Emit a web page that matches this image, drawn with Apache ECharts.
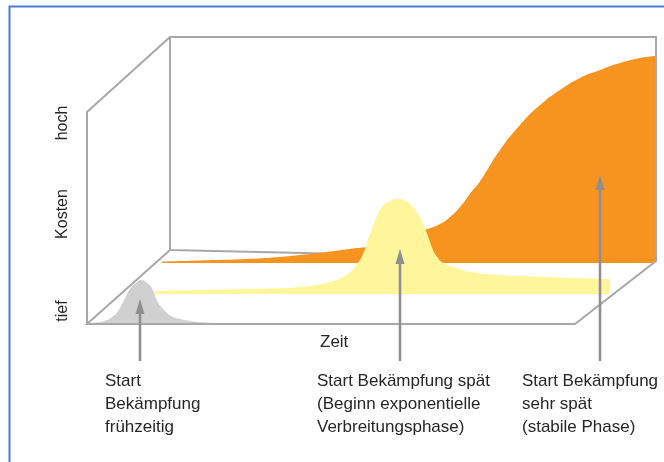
<!DOCTYPE html>
<html><head><meta charset="utf-8">
<script src="https://cdn.jsdelivr.net/npm/echarts@6/dist/echarts.min.js"></script>
<style>html,body{margin:0;padding:0;background:#fff}#c{width:664px;height:462px}</style>
</head><body><div id="c"></div>
<script>
// Zeit (0..100 along each depth layer) and Kosten (0..100, relative)
const timeVerySpaet = [1.4, 9, 19, 29, 39, 45, 49, 53, 57, 59, 61, 63, 65, 69, 73, 77, 81, 85, 89, 93, 97, 100];
const costVerySpaet = [0.7, 1.2, 2.0, 3.9, 6.8, 8.7, 11.0, 15.0, 18.8, 22.2, 27.0, 33.5, 39.5, 54.6, 66.7, 76.3, 83.6, 89.4, 93.2, 96.6, 99.0, 100];

const timeSpaet = [6.9, 16.0, 26.2, 36.3, 42.4, 45.0, 46.5, 47.9, 49.1, 50.5, 51.9, 53.1, 54.6, 56.2, 57.8, 59.0, 60.0, 61.1, 62.1, 63.3, 64.3, 65.3, 66.7, 68.2, 70.8, 76.9, 87.0, 99.2];
const costSpaet = [1.4, 1.9, 2.4, 3.4, 5.8, 8.2, 10.6, 14.5, 19.3, 29.0, 37.7, 42.5, 44.9, 45.9, 44.9, 42.5, 39.6, 34.8, 29.0, 21.3, 17.4, 15.0, 13.5, 12.6, 10.6, 9.2, 8.2, 7.2];

const timeFrueh = [0, 1.2, 2.7, 4.1, 5.1, 6.1, 7.4, 8.8, 10.0, 11.1, 12.3, 13.3, 14.5, 15.6, 16.4, 17.6, 19.1, 21.1, 22.5, 25.8, 29.3];
const costFrueh = [0, 0.5, 1.0, 1.9, 3.4, 5.3, 10.6, 16.9, 19.8, 21.3, 19.8, 17.4, 10.6, 7.2, 5.3, 3.4, 2.4, 1.4, 1.0, 0.5, 0];

const axisLabelsY = ['tief', 'Kosten', 'hoch'];
const axisLabelX = 'Zeit';
const annotations = [
  'Start\nBekämpfung\nfrühzeitig',
  'Start Bekämpfung spät\n(Beginn exponentielle\nVerbreitungsphase)',
  'Start Bekämpfung\nsehr spät\n(stabile Phase)'
];
// arrow targets: [layer, time, cost]
const arrowTargets = [[2, 10.9, 12.1], [1, 56.6, 21.7], [0, 89, 42.5]];

// ---- layout ----
const PX = 2.07, YMAX = 110;
const layers = [
  {left: 155, width: 500, base: 263, color: '#F7931F'},
  {left: 121, width: 493, base: 294, color: '#FFF59A'},
  {left: 87,  width: 488, base: 324, color: '#D0D0D0'}
];
const datasets = [[timeVerySpaet, costVerySpaet], [timeSpaet, costSpaet], [timeFrueh, costFrueh]];
const FONT = '"Liberation Sans", Arial, sans-serif';
const TXT = '#262626';
const LINE = '#a8a8a8';

const chart = echarts.init(document.getElementById('c'), null, {renderer: 'canvas'});

const option = {
  animation: false,
  backgroundColor: '#ffffff',
  grid: layers.map(l => ({left: l.left, width: l.width, top: l.base - YMAX * PX, height: YMAX * PX, containLabel: false})),
  xAxis: layers.map((l, i) => ({type: 'value', gridIndex: i, min: 0, max: 100, show: false})),
  yAxis: layers.map((l, i) => ({type: 'value', gridIndex: i, min: 0, max: YMAX, show: false})),
  series: layers.map((l, i) => ({
    type: 'line', xAxisIndex: i, yAxisIndex: i, z: 2 + i,
    data: datasets[i][0].map((t, k) => [t, datasets[i][1][k]]),
    symbol: 'none', showSymbol: false, silent: true,
    smooth: 0.5,
    lineStyle: {width: 0, color: l.color},
    areaStyle: {color: l.color, opacity: 1}
  }))
};
chart.setOption(option);

// box wireframe
const box = {
  fl: [87, 112], fb: [87, 324], bt: [170, 37], bb: [170, 250],
  brt: [656, 37], brb: [656, 261], frb: [575, 324]
};
const g = [];
const line = (pts, z) => ({type: 'polyline', z: z, silent: true,
  shape: {points: pts}, style: {stroke: LINE, lineWidth: 2, fill: null}});
// back panel (behind curves)
g.push(line([box.bb, box.bt, box.brt, box.brb, box.bb], 1));
// left side
g.push(line([box.fb, box.fl, box.bt], 1));
// floor (in front)
g.push(line([box.bb, box.fb, box.frb, box.brb], 20));
// blue frame
g.push({type: 'polyline', z: 30, silent: true, shape: {points: [[9.5, 462], [9.5, 6.5], [664, 6.5]]},
  style: {stroke: '#4A7BD5', lineWidth: 2, fill: null}});

// arrows
const ARROW = '#8f8f8f';
arrowTargets.forEach(([li, t, c]) => {
  const p = chart.convertToPixel({gridIndex: li}, [t, c]);
  const x = Math.round(p[0]), tip = p[1], bottom = 361;
  g.push({type: 'line', z: 25, silent: true, shape: {x1: x, y1: bottom, x2: x, y2: tip + 10},
    style: {stroke: ARROW, lineWidth: 2.6}});
  g.push({type: 'polygon', z: 25, silent: true,
    shape: {points: [[x, tip], [x - 4.5, tip + 15], [x + 4.5, tip + 15]]},
    style: {fill: ARROW}});
});

// axis labels
const yLabelPos = [311, 214, 123];
axisLabelsY.forEach((s, i) => g.push({type: 'text', z: 30, silent: true, x: 63, y: yLabelPos[i], rotation: Math.PI / 2,
  style: {text: s, font: '16px ' + FONT, fill: TXT, align: 'center', verticalAlign: 'middle'}}));
g.push({type: 'text', z: 30, silent: true, x: 320, y: 342,
  style: {text: axisLabelX, font: '17px ' + FONT, fill: TXT, align: 'left', verticalAlign: 'middle'}});

const annX = [105, 317, 522];
annotations.forEach((s, i) => g.push({type: 'text', z: 30, silent: true, x: annX[i], y: 369.5,
  style: {text: s, fontSize: 17, fontFamily: FONT, fill: TXT, align: 'left', verticalAlign: 'top', lineHeight: 23}}));

chart.setOption({graphic: {elements: g}});
</script>
</body></html>
